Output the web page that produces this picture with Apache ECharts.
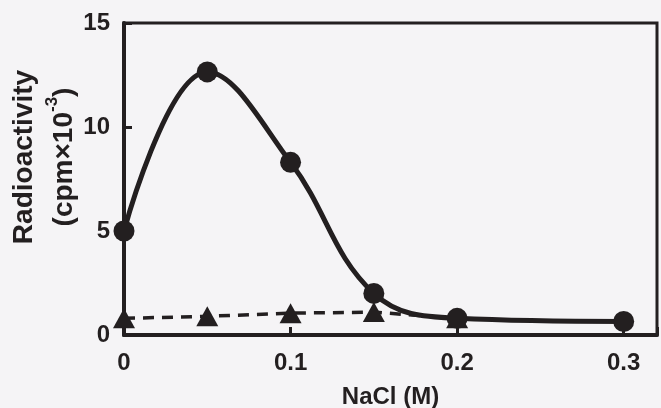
<!DOCTYPE html>
<html>
<head>
<meta charset="utf-8">
<script src="https://cdn.jsdelivr.net/npm/echarts@6/dist/echarts.min.js"></script>
<style>
	html, body { margin: 0; padding: 0; background: #f5f4f6; }
	#chartmain { width: 661px; height: 408px; }
</style>
</head>
<body>
<div id="chartmain"></div>
<script>
// NaCl concentration (M)
var nacl = [0, 0.05, 0.1, 0.15, 0.2, 0.3];
// radioactivity, circles (solid line)
var circleVals = [5.0, 12.65, 8.3, 2.0, 0.8, 0.65];
// radioactivity, triangles (dashed line)
var triNacl = [0, 0.05, 0.1, 0.15, 0.2];
var triVals = [0.8, 0.9, 1.05, 1.1, 0.8];
var xTicks = [0, 0.1, 0.2, 0.3];
var yTicks = [0, 5, 10, 15];

var ink = '#231f20';
var font = 'Liberation Sans, Arial, sans-serif';

var circleData = [];
for (var i = 0; i < nacl.length; i++) {
	circleData.push([nacl[i], circleVals[i]]);
}
var triData = [];
for (var i = 0; i < triNacl.length; i++) {
	triData.push([triNacl[i], triVals[i]]);
}

var option = {
	backgroundColor : '#f5f4f6',
	animation : false,
	grid : {
		left : 124,
		right : 4,
		top : 23,
		bottom : 73,
		outerBoundsMode : 'none',
		containLabel : false,
		show : true,
		borderColor : ink,
		borderWidth : 3,
		backgroundColor : 'transparent'
	},
	xAxis : {
		type : 'value',
		min : 0,
		max : 0.32,
		interval : 0.1,
		name : 'NaCl (M)',
		nameLocation : 'middle',
		nameGap : 50,
		nameMoveOverlap : false,
		nameTextStyle : { color : ink, fontSize : 24, fontWeight : 'bold', fontFamily : font },
		axisLine : { lineStyle : { color : ink, width : 4 } },
		axisTick : { inside : true, length : 8, lineStyle : { color : ink, width : 3 } },
		splitLine : { show : false },
		axisLabel : {
			color : ink, fontSize : 24, fontWeight : 'bold', fontFamily : font, margin : 16,
			formatter : function(v) {
				return xTicks.indexOf(Math.round(v * 100) / 100) >= 0 ? String(Math.round(v * 10) / 10) : '';
			}
		}
	},
	yAxis : {
		type : 'value',
		min : 0,
		max : 15,
		interval : 5,
		name : '{a|Radioactivity}\n{b|(cpm×10}{s|-3}{b|)}',
		nameLocation : 'middle',
		nameGap : 40,
		nameMoveOverlap : false,
		nameRotate : 90,
		nameTextStyle : {
			color : ink, fontFamily : font, fontWeight : 'bold',
			padding : [0, 0, 0, 44],
			rich : {
				a : { fontSize : 28, fontWeight : 'bold', color : ink, fontFamily : font, lineHeight : 40 },
				b : { fontSize : 28, fontWeight : 'bold', color : ink, fontFamily : font, lineHeight : 40 },
				s : { fontSize : 17, fontWeight : 'bold', color : ink, fontFamily : font, verticalAlign : 'top', padding : [0, 0, 8, 0] }
			}
		},
		axisLine : { lineStyle : { color : ink, width : 4 } },
		axisTick : { inside : true, length : 8, lineStyle : { color : ink, width : 3 } },
		splitLine : { show : false },
		axisLabel : {
			color : ink, fontSize : 24, fontWeight : 'bold', fontFamily : font, margin : 14,
			formatter : function(v) {
				return yTicks.indexOf(v) >= 0 ? String(v) : '';
			}
		}
	},
	series : [ {
		type : 'line',
		data : triData,
		symbol : 'triangle',
		symbolSize : [22, 20],
		smooth : false,
		itemStyle : { color : ink },
		lineStyle : { color : ink, width : 3.5, type : [11, 8] },
		z : 2
	}, {
		type : 'line',
		data : circleData,
		symbol : 'circle',
		symbolSize : 21,
		smooth : 0.4,
		itemStyle : { color : ink },
		lineStyle : { color : ink, width : 5 },
		z : 3
	} ]
};

var myChart = echarts.init(document.getElementById('chartmain'));
myChart.setOption(option);
</script>
</body>
</html>
